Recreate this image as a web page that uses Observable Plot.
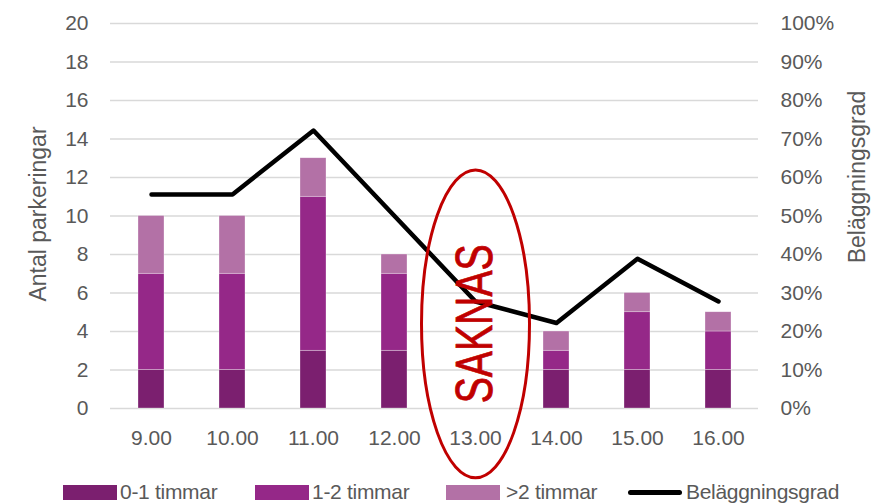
<!DOCTYPE html>
<html>
<head>
<meta charset="utf-8">
<script src="https://cdn.jsdelivr.net/npm/d3@7"></script>
<script src="https://cdn.jsdelivr.net/npm/@observablehq/plot@0.6"></script>
<style>
  html, body { margin: 0; padding: 0; background: #fff; }
  #wrap { width: 889px; font-family: "Liberation Sans", Arial, sans-serif; color: #595959; }
  #legend { position: relative; width: 889px; height: 24px; font-size: 21px; }
  #legend .sw { position: absolute; top: 5px; width: 54px; height: 15px; }
  #legend .ln { position: absolute; top: 10px; width: 54px; height: 5px; background: #000; border-radius: 3px; }
  #legend .tx { position: absolute; top: 0; line-height: 24px; white-space: nowrap; letter-spacing: -0.3px; }
</style>
</head>
<body>
<div id="wrap"></div>
<script>
// ---- data ----
const hours = ["9.00", "10.00", "11.00", "12.00", "13.00", "14.00", "15.00", "16.00"];
const seriesNames = ["0-1 timmar", "1-2 timmar", ">2 timmar"];
const t01 = [2, 2, 3, 3, 0, 2, 2, 2];
const t12 = [5, 5, 8, 4, 0, 1, 3, 2];
const t2p = [3, 3, 2, 1, 0, 1, 1, 1];
const belaggningsgrad = [55.6, 55.6, 72.2, 50.0, 27.8, 22.2, 38.9, 27.8]; // percent
const lineName = "Beläggningsgrad";
const leftTicks = [0, 2, 4, 6, 8, 10, 12, 14, 16, 18, 20];
const rightTickLabels = ["0%", "10%", "20%", "30%", "40%", "50%", "60%", "70%", "80%", "90%", "100%"];
const yTitle = "Antal parkeringar";
const y2Title = "Beläggningsgrad";
const missing = [{hour: "13.00", level: 4.4, label: "SAKNAS"}];

const colors = ["#7b1f6f", "#952888", "#b371a6"];

const seriesValues = [t01, t12, t2p];
const rows = hours.flatMap((h, i) => seriesNames.map((s, k) => ({hour: h, cat: s, n: seriesValues[k][i]})))
  .filter(d => d.n > 0);
const lineRows = hours.map((h, i) => ({hour: h, pct: belaggningsgrad[i]}));

const chart = Plot.plot({
  width: 889,
  height: 480,
  marginLeft: 110,
  marginRight: 131,
  marginTop: 23,
  marginBottom: 72,
  style: {fontFamily: "Liberation Sans, Arial, sans-serif", fontSize: "21px", color: "#595959", background: "#fff", overflow: "visible"},
  x: {domain: hours, paddingInner: 0.68, paddingOuter: 0.34, align: 0.5},
  y: {domain: [0, 20]},
  color: {domain: seriesNames, range: colors},
  marks: [
    Plot.ruleY(leftTicks, {stroke: "#d9d9d9", strokeWidth: 1.6}),
    Plot.barY(rows, {x: "hour", y: "n", fill: "cat", stroke: "#ffffff", strokeWidth: 0.6, strokeOpacity: 0.5}),
    Plot.line(lineRows, {x: "hour", y: d => d.pct / 5, stroke: "#000", strokeWidth: 4.5, strokeLinecap: "round", strokeLinejoin: "round"}),
    Plot.dot(missing, {x: "hour", y: "level", r: 54, stroke: "#c00000", strokeWidth: 3, fill: "none"}),
    Plot.text(missing, {x: "hour", y: "level", text: "label", rotate: -90, fontSize: 52, fill: "#c00000", stroke: "#c00000", strokeWidth: 0.8}),
    Plot.axisX({tickSize: 0, tickPadding: 22, label: null}),
    Plot.axisY({anchor: "left", ticks: leftTicks, tickSize: 0, tickPadding: 22, label: null}),
    Plot.axisY({anchor: "right", ticks: leftTicks, tickSize: 0, tickPadding: 22, label: null,
      tickFormat: d => rightTickLabels[leftTicks.indexOf(d)]}),
    Plot.text([yTitle], {frameAnchor: "left", dx: -72, dy: -2, rotate: -90, textAnchor: "middle", fontSize: 23, fill: "#595959"}),
    Plot.text([y2Title], {frameAnchor: "right", dx: 99, dy: -39, rotate: -90, textAnchor: "middle", fontSize: 23, fill: "#595959"})
  ]
});

// shape the annotation: stretch the circle into an ellipse, squeeze the text
d3.select(chart).selectAll("circle").each(function () {
  const c = d3.select(this);
  const cx = +c.attr("cx") || 0, cy = +c.attr("cy") || 0;
  c.attr("transform", `translate(${cx},${cy}) scale(1,2.85) translate(${-cx},${-cy})`)
   .attr("vector-effect", "non-scaling-stroke");
});
d3.select(chart).selectAll("text").filter(function () { return d3.select(this).text() === "SAKNAS"; })
  .attr("textLength", 159).attr("lengthAdjust", "spacingAndGlyphs");

const wrap = document.getElementById("wrap");
wrap.appendChild(chart);

// legend
const legend = document.createElement("div");
legend.id = "legend";
const swLeft = [63, 255, 446];
const txLeft = [120, 312, 506];
seriesNames.forEach((s, k) => {
  const sw = document.createElement("div");
  sw.className = "sw"; sw.style.left = swLeft[k] + "px"; sw.style.background = colors[k];
  const tx = document.createElement("div");
  tx.className = "tx"; tx.style.left = txLeft[k] + "px"; tx.textContent = s;
  legend.appendChild(sw); legend.appendChild(tx);
});
const ln = document.createElement("div");
ln.className = "ln"; ln.style.left = "628px";
const lt = document.createElement("div");
lt.className = "tx"; lt.style.left = "686px"; lt.textContent = lineName;
legend.appendChild(ln); legend.appendChild(lt);
wrap.appendChild(legend);
</script>
</body>
</html>
